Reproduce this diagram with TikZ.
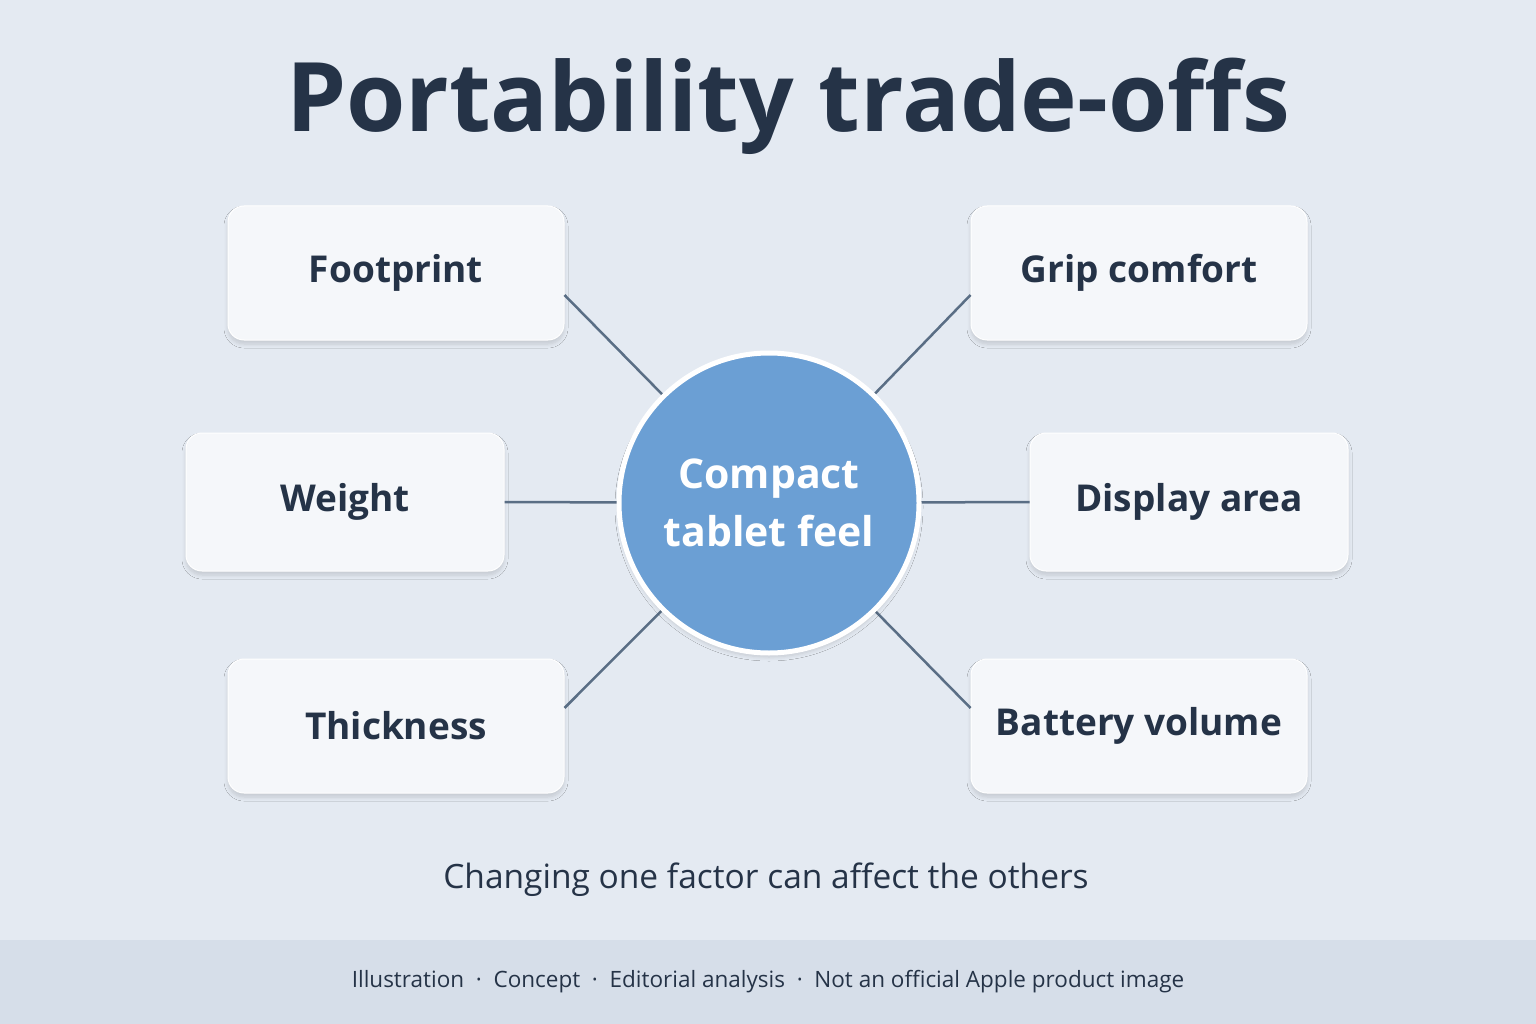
\documentclass[tikz,border=0pt]{standalone}
\usepackage{fontspec}
\setmainfont{Open Sans}
\usetikzlibrary{shadows.blur,calc}
\definecolor{bg}{HTML}{E4EAF2}
\definecolor{foot}{HTML}{D6DEE9}
\definecolor{ink}{HTML}{253347}
\definecolor{circ}{HTML}{6B9FD4}
\definecolor{lin}{HTML}{5A6E85}
\definecolor{boxf}{HTML}{F5F7FA}
\tikzset{soft/.style={blur shadow={shadow xshift=0pt,shadow yshift=-4pt,shadow blur radius=4pt,shadow blur steps=6,shadow opacity=14}}}
\begin{document}
\begin{tikzpicture}[x=1pt,y=-1pt,
  box/.style={draw=white,line width=1pt,fill=boxf,rounded corners=16pt,minimum width=336pt,minimum height=134pt,text=ink,font=\fontsize{37}{44}\selectfont\bfseries,soft},
  conn/.style={draw=lin,line width=2.5pt}]
\fill[bg] (0,0) rectangle (1536,1024);
\fill[foot] (0,940) rectangle (1536,1024);
\useasboundingbox (0,0) rectangle (1536,1024);
\node[text=ink,font=\fontsize{96}{110}\selectfont\bfseries] (title) at (788,106) {Portability trade-offs};
\node[box] (fp) at (396,273) {Footprint};
\node[box] (gc) at (1139,273) {Grip comfort};
\node[box,minimum width=318pt,minimum height=138pt] (wt) at (345,502) {Weight};
\node[box,minimum width=318pt,minimum height=138pt] (da) at (1189,502) {Display area};
\node[box] (th) at (396,726) {Thickness};
\node[box] (bv) at (1139,726) {Battery volume};
\coordinate (c) at (769,503);
\draw[conn] (c) -- ($(fp.east)+(0,22)$);
\draw[conn] (c) -- ($(gc.west)+(0,22)$);
\draw[conn] (c) -- (wt.east);
\draw[conn] (c) -- (da.west);
\draw[conn] (c) -- ($(th.east)+(0,-18)$);
\draw[conn] (c) -- ($(bv.west)+(0,-18)$);
\node[circle,fill=circ,draw=white,line width=5pt,minimum size=300pt,align=center,text=white,font=\fontsize{41}{58}\selectfont\bfseries,soft] (cc) at (c) {Compact\\tablet feel};
\node[text=ink,font=\fontsize{33.5}{38}\selectfont] (sub) at (766,880) {Changing one factor can affect the others};
\node[text=ink,font=\fontsize{22.5}{26}\selectfont] (ft) at (768,982) {Illustration\ \ ·\ \ Concept\ \ ·\ \ Editorial analysis\ \ ·\ \ Not an official Apple product image};
\end{tikzpicture}
\end{document}
